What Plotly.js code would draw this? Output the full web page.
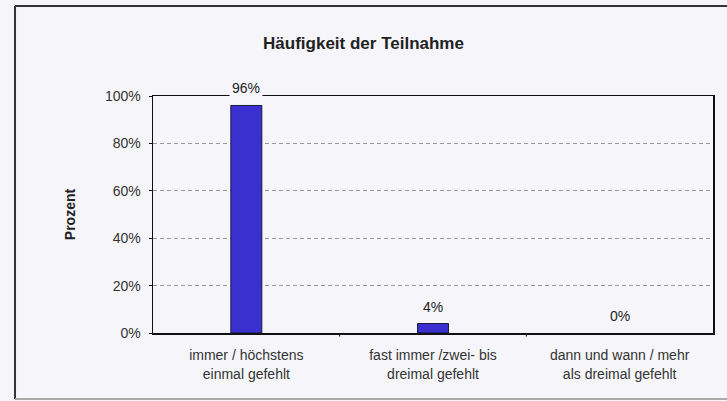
<!DOCTYPE html>
<html>
<head>
<meta charset="utf-8">
<script src="https://cdn.plot.ly/plotly-3.0.1.min.js"></script>
<style>html,body{margin:0;padding:0;background:#f6f6fa;}#chart{width:727px;height:401px;}</style>
</head>
<body>
<div id="chart"></div>
<script>
var categories = ["immer / höchstens<br>einmal gefehlt", "fast immer /zwei- bis<br>dreimal gefehlt", "dann und wann / mehr<br>als dreimal gefehlt"];
var values = [96, 4, 0];
var labels = ["96%", "4%", "0%"];
var yTickVals = [0, 20, 40, 60, 80, 100];
var yTickText = ["0%", "20%", "40%", "60%", "80%", "100%"];

var FONT = "Liberation Sans, Arial, sans-serif";
var BG = "#f6f6fa";

var trace = {
  type: "bar",
  x: categories,
  y: values,
  marker: {color: "#3a2fcf", line: {color: "#1a1a40", width: values.map(function (v) { return v > 0 ? 1 : 0; })}},
  width: 0.166,
  hoverinfo: "skip"
};

var annotations = categories.map(function (c, i) {
  return {
    x: c, y: values[i], xref: "x", yref: "y",
    text: labels[i], showarrow: false,
    yanchor: "bottom", yshift: 6,
    bgcolor: BG, borderpad: 2,
    font: {family: FONT, size: 14, color: "#222"}
  };
});

var layout = {
  width: 727, height: 401,
  margin: {l: 153, r: 14, t: 96, b: 68},
  paper_bgcolor: BG, plot_bgcolor: BG,
  showlegend: false,
  title: {text: "<b>Häufigkeit der Teilnahme</b>", x: 0.5, xanchor: "center", y: 0.893, yanchor: "middle",
          font: {family: FONT, size: 17, color: "#222"}},
  xaxis: {
    type: "category", range: [-0.5, 2.5],
    showline: true, linecolor: "#111", linewidth: 1.5, mirror: true,
    ticks: "inside", ticklen: 0, ticklabelstandoff: 9,
    tickfont: {family: FONT, size: 14, color: "#333"},
    showgrid: false, zeroline: false, fixedrange: true
  },
  yaxis: {
    range: [0, 100], tickvals: yTickVals, ticktext: yTickText,
    showline: true, linecolor: "#111", linewidth: 1.5, mirror: true,
    ticks: "outside", ticklen: 3, tickcolor: "#111", ticklabelstandoff: 5,
    tickfont: {family: FONT, size: 14, color: "#333"},
    showgrid: true, gridcolor: "#9a9a9a", griddash: "4px,3px", gridwidth: 1,
    zeroline: false, fixedrange: true,
    title: {text: "<b>Prozent</b>", standoff: 26, font: {family: FONT, size: 14, color: "#222"}}
  },
  annotations: annotations,
  shapes: [
    {type: "line", xref: "paper", yref: "paper", x0: -0.2464, x1: 1.05, y0: 1.380, y1: 1.380, line: {color: "#333", width: 2}},
    {type: "line", xref: "paper", yref: "paper", x0: -0.2464, x1: -0.2464, y0: 1.380, y1: -0.2785, line: {color: "#333", width: 2}},
    {type: "line", xref: "paper", yref: "paper", x0: -0.2464, x1: 1.05, y0: -0.2785, y1: -0.2785, line: {color: "#aaaaaa", width: 2}},
    {type: "line", xref: "paper", yref: "paper", x0: 1/3, x1: 1/3, y0: 0, y1: -0.015, line: {color: "#111", width: 1}},
    {type: "line", xref: "paper", yref: "paper", x0: 2/3, x1: 2/3, y0: 0, y1: -0.015, line: {color: "#111", width: 1}}
  ]
};

Plotly.newPlot("chart", [trace], layout, {displayModeBar: false, staticPlot: true});
</script>
</body>
</html>
